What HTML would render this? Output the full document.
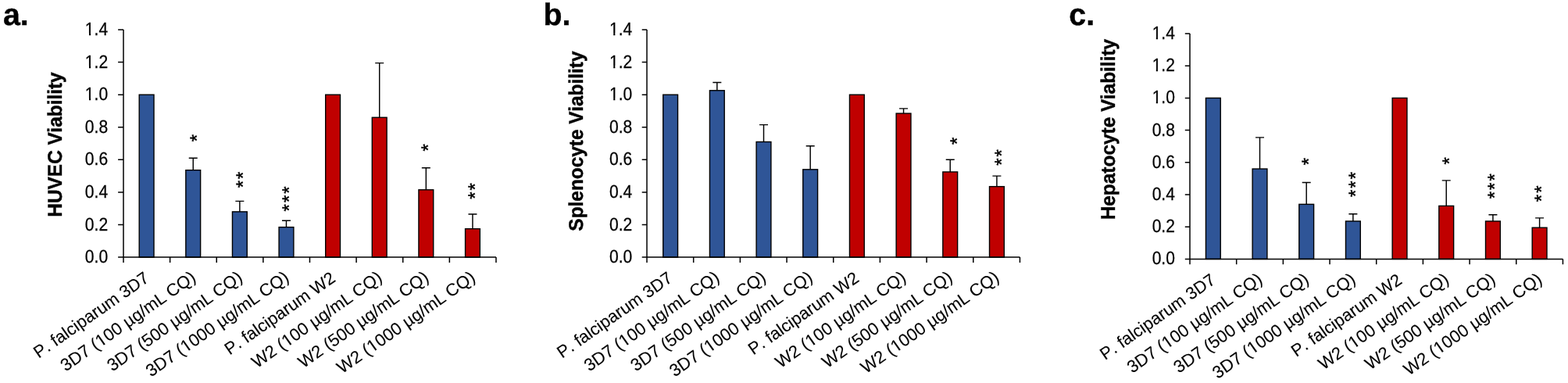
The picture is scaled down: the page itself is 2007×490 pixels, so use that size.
<!DOCTYPE html>
<html lang="en"><head><meta charset="utf-8"><title>Cell viability charts</title>
<style>html,body{margin:0;padding:0;background:#fff}body{width:2007px;height:490px;overflow:hidden}svg{display:block}</style>
</head><body>
<svg width="2007" height="490" viewBox="0 0 2007 490" font-family='"Liberation Sans", sans-serif' text-rendering="geometricPrecision">
<rect width="2007" height="490" fill="#fff"/>
<g>
<text x="4" y="32.3" font-size="39.3" font-weight="bold" fill="#000" stroke="#000" stroke-width="0.4">a.</text>
<text transform="translate(78.8,185) rotate(-90) scale(0.996,1.04)" text-anchor="middle" font-size="24.5" font-weight="bold" fill="#000" stroke="#000" stroke-width="0.4">HUVEC Viability</text>
<rect x="178.21" y="121.17" width="18.8" height="207.93" fill="#2f5597" stroke="#000" stroke-width="1.4"/>
<path d="M247.23 217.65V202.26M241.73 202.26H252.73" stroke="#000" stroke-width="1.45" fill="none"/>
<rect x="237.83" y="217.65" width="18.8" height="111.45" fill="#2f5597" stroke="#000" stroke-width="1.4"/>
<text transform="translate(259.83,181.18) rotate(-90)" font-size="24" letter-spacing="2.0" fill="#000" stroke="#000" stroke-width="0.5">*</text>
<path d="M306.85 270.88V257.36M301.35 257.36H312.35" stroke="#000" stroke-width="1.45" fill="none"/>
<rect x="297.45" y="270.88" width="18.8" height="58.22" fill="#2f5597" stroke="#000" stroke-width="1.4"/>
<text transform="translate(318.65,240.35) rotate(-90)" font-size="24" letter-spacing="2.0" fill="#000" stroke="#000" stroke-width="0.5">**</text>
<path d="M366.47 290.63V282.32M360.97 282.32H371.97" stroke="#000" stroke-width="1.45" fill="none"/>
<rect x="357.07" y="290.63" width="18.8" height="38.47" fill="#2f5597" stroke="#000" stroke-width="1.4"/>
<text transform="translate(378.07,270.42) rotate(-90)" font-size="24" letter-spacing="2.0" fill="#000" stroke="#000" stroke-width="0.5">***</text>
<rect x="416.69" y="121.17" width="18.8" height="207.93" fill="#c00000" stroke="#000" stroke-width="1.4"/>
<path d="M485.71 150.28V80.63M480.21 80.63H491.21" stroke="#000" stroke-width="1.45" fill="none"/>
<rect x="476.31" y="150.28" width="18.8" height="178.82" fill="#c00000" stroke="#000" stroke-width="1.4"/>
<path d="M545.33 242.81V214.74M539.83 214.74H550.83" stroke="#000" stroke-width="1.45" fill="none"/>
<rect x="535.93" y="242.81" width="18.8" height="86.29" fill="#c00000" stroke="#000" stroke-width="1.4"/>
<text transform="translate(555.63,193.58) rotate(-90)" font-size="24" letter-spacing="2.0" fill="#000" stroke="#000" stroke-width="0.5">*</text>
<path d="M604.95 292.71V274.00M599.45 274.00H610.45" stroke="#000" stroke-width="1.45" fill="none"/>
<rect x="595.55" y="292.71" width="18.8" height="36.39" fill="#c00000" stroke="#000" stroke-width="1.4"/>
<text transform="translate(616.45,254.85) rotate(-90)" font-size="24" letter-spacing="2.0" fill="#000" stroke="#000" stroke-width="0.5">**</text>
<path d="M158 38V329.1H634.96M151.1 329.10H158M151.1 287.51H158M151.1 245.93H158M151.1 204.34H158M151.1 162.76H158M151.1 121.17H158M151.1 79.59H158M151.1 38.00H158M158.00 329.1V336.00M217.62 329.1V336.00M277.24 329.1V336.00M336.86 329.1V336.00M396.48 329.1V336.00M456.10 329.1V336.00M515.72 329.1V336.00M575.34 329.1V336.00M634.96 329.1V336.00" stroke="#000" stroke-width="1.5" fill="none"/>
<text transform="translate(138.10,336.10) scale(0.965,1.075)" text-anchor="end" font-size="21.8" fill="#000" stroke="#000" stroke-width="0.25">0.0</text>
<text transform="translate(138.10,294.51) scale(0.965,1.075)" text-anchor="end" font-size="21.8" fill="#000" stroke="#000" stroke-width="0.25">0.2</text>
<text transform="translate(138.10,252.93) scale(0.965,1.075)" text-anchor="end" font-size="21.8" fill="#000" stroke="#000" stroke-width="0.25">0.4</text>
<text transform="translate(138.10,211.34) scale(0.965,1.075)" text-anchor="end" font-size="21.8" fill="#000" stroke="#000" stroke-width="0.25">0.6</text>
<text transform="translate(138.10,169.76) scale(0.965,1.075)" text-anchor="end" font-size="21.8" fill="#000" stroke="#000" stroke-width="0.25">0.8</text>
<text transform="translate(138.10,128.17) scale(0.965,1.075)" text-anchor="end" font-size="21.8" fill="#000" stroke="#000" stroke-width="0.25">1.0</text><path transform="translate(138.10,128.17) scale(0.965,1.075)" d="M-29.75 -2.23H-24.98V1.30H-29.75ZM-22.75 -2.23H-18.15V1.30H-22.75Z" fill="#fff"/>
<text transform="translate(138.10,86.59) scale(0.965,1.075)" text-anchor="end" font-size="21.8" fill="#000" stroke="#000" stroke-width="0.25">1.2</text><path transform="translate(138.10,86.59) scale(0.965,1.075)" d="M-29.75 -2.23H-24.98V1.30H-29.75ZM-22.75 -2.23H-18.15V1.30H-22.75Z" fill="#fff"/>
<text transform="translate(138.10,45.00) scale(0.965,1.075)" text-anchor="end" font-size="21.8" fill="#000" stroke="#000" stroke-width="0.25">1.4</text><path transform="translate(138.10,45.00) scale(0.965,1.075)" d="M-29.75 -2.23H-24.98V1.30H-29.75ZM-22.75 -2.23H-18.15V1.30H-22.75Z" fill="#fff"/>
<text transform="translate(192.21,359.10) rotate(-35)" text-anchor="end" font-size="21.95" fill="#000" stroke="#000" stroke-width="0.1">P<tspan dx="2.7">.</tspan> falciparum 3D7</text>
<text transform="translate(252.13,358.10) rotate(-35)" text-anchor="end" font-size="22.15" fill="#000" stroke="#000" stroke-width="0.1">3D7 (100 µg/mL CQ)</text><path transform="translate(252.13,358.10) rotate(-35)" d="M-150.40 -2.25H-145.56V1.30H-150.40ZM-143.31 -2.25H-138.65V1.30H-143.31Z" fill="#fff"/>
<text transform="translate(311.75,358.10) rotate(-35)" text-anchor="end" font-size="22.15" fill="#000" stroke="#000" stroke-width="0.1">3D7 (500 µg/mL CQ)</text>
<text transform="translate(371.37,358.10) rotate(-35)" text-anchor="end" font-size="22.15" fill="#000" stroke="#000" stroke-width="0.1">3D7 (1000 µg/mL CQ)</text><path transform="translate(371.37,358.10) rotate(-35)" d="M-162.73 -2.25H-157.89V1.30H-162.73ZM-155.63 -2.25H-150.98V1.30H-155.63Z" fill="#fff"/>
<text transform="translate(430.69,359.10) rotate(-35)" text-anchor="end" font-size="21.95" fill="#000" stroke="#000" stroke-width="0.1">P<tspan dx="2.7">.</tspan> falciparum W2</text>
<text transform="translate(490.61,358.10) rotate(-35)" text-anchor="end" font-size="22.15" fill="#000" stroke="#000" stroke-width="0.1">W2 (100 µg/mL CQ)</text><path transform="translate(490.61,358.10) rotate(-35)" d="M-150.41 -2.25H-145.58V1.30H-150.41ZM-143.32 -2.25H-138.66V1.30H-143.32Z" fill="#fff"/>
<text transform="translate(550.23,358.10) rotate(-35)" text-anchor="end" font-size="22.15" fill="#000" stroke="#000" stroke-width="0.1">W2 (500 µg/mL CQ)</text>
<text transform="translate(609.85,358.10) rotate(-35)" text-anchor="end" font-size="22.15" fill="#000" stroke="#000" stroke-width="0.1">W2 (1000 µg/mL CQ)</text><path transform="translate(609.85,358.10) rotate(-35)" d="M-162.73 -2.25H-157.89V1.30H-162.73ZM-155.63 -2.25H-150.98V1.30H-155.63Z" fill="#fff"/>
</g>
<g>
<text x="695.6" y="32.4" font-size="39.3" font-weight="bold" fill="#000" stroke="#000" stroke-width="0.4">b.</text>
<text transform="translate(746.2,180.6) rotate(-90) scale(0.996,1.04)" text-anchor="middle" font-size="24.5" font-weight="bold" fill="#000" stroke="#000" stroke-width="0.4">Splenocyte Viability</text>
<rect x="848.74" y="121.17" width="18.8" height="207.93" fill="#2f5597" stroke="#000" stroke-width="1.4"/>
<path d="M917.82 115.77V105.58M912.32 105.58H923.32" stroke="#000" stroke-width="1.45" fill="none"/>
<rect x="908.42" y="115.77" width="18.8" height="213.33" fill="#2f5597" stroke="#000" stroke-width="1.4"/>
<path d="M977.50 181.47V159.64M972.00 159.64H983.00" stroke="#000" stroke-width="1.45" fill="none"/>
<rect x="968.10" y="181.47" width="18.8" height="147.63" fill="#2f5597" stroke="#000" stroke-width="1.4"/>
<path d="M1037.18 216.82V186.67M1031.68 186.67H1042.68" stroke="#000" stroke-width="1.45" fill="none"/>
<rect x="1027.78" y="216.82" width="18.8" height="112.28" fill="#2f5597" stroke="#000" stroke-width="1.4"/>
<rect x="1087.46" y="121.17" width="18.8" height="207.93" fill="#c00000" stroke="#000" stroke-width="1.4"/>
<path d="M1156.54 145.08V138.85M1151.04 138.85H1162.04" stroke="#000" stroke-width="1.45" fill="none"/>
<rect x="1147.14" y="145.08" width="18.8" height="184.02" fill="#c00000" stroke="#000" stroke-width="1.4"/>
<path d="M1216.22 219.94V204.34M1210.72 204.34H1221.72" stroke="#000" stroke-width="1.45" fill="none"/>
<rect x="1206.82" y="219.94" width="18.8" height="109.16" fill="#c00000" stroke="#000" stroke-width="1.4"/>
<text transform="translate(1232.92,184.88) rotate(-90)" font-size="24" letter-spacing="2.0" fill="#000" stroke="#000" stroke-width="0.5">*</text>
<path d="M1275.90 238.65V225.14M1270.40 225.14H1281.40" stroke="#000" stroke-width="1.45" fill="none"/>
<rect x="1266.50" y="238.65" width="18.8" height="90.45" fill="#c00000" stroke="#000" stroke-width="1.4"/>
<text transform="translate(1289.50,211.75) rotate(-90)" font-size="24" letter-spacing="2.0" fill="#000" stroke="#000" stroke-width="0.5">**</text>
<path d="M828 38V329.1H1305.44M821.7 329.10H828M821.7 287.51H828M821.7 245.93H828M821.7 204.34H828M821.7 162.76H828M821.7 121.17H828M821.7 79.59H828M821.7 38.00H828M828.00 329.1V336.00M887.68 329.1V336.00M947.36 329.1V336.00M1007.04 329.1V336.00M1066.72 329.1V336.00M1126.40 329.1V336.00M1186.08 329.1V336.00M1245.76 329.1V336.00M1305.44 329.1V336.00" stroke="#000" stroke-width="1.5" fill="none"/>
<text transform="translate(809.30,336.10) scale(0.965,1.075)" text-anchor="end" font-size="21.8" fill="#000" stroke="#000" stroke-width="0.25">0.0</text>
<text transform="translate(809.30,294.51) scale(0.965,1.075)" text-anchor="end" font-size="21.8" fill="#000" stroke="#000" stroke-width="0.25">0.2</text>
<text transform="translate(809.30,252.93) scale(0.965,1.075)" text-anchor="end" font-size="21.8" fill="#000" stroke="#000" stroke-width="0.25">0.4</text>
<text transform="translate(809.30,211.34) scale(0.965,1.075)" text-anchor="end" font-size="21.8" fill="#000" stroke="#000" stroke-width="0.25">0.6</text>
<text transform="translate(809.30,169.76) scale(0.965,1.075)" text-anchor="end" font-size="21.8" fill="#000" stroke="#000" stroke-width="0.25">0.8</text>
<text transform="translate(809.30,128.17) scale(0.965,1.075)" text-anchor="end" font-size="21.8" fill="#000" stroke="#000" stroke-width="0.25">1.0</text><path transform="translate(809.30,128.17) scale(0.965,1.075)" d="M-29.75 -2.23H-24.98V1.30H-29.75ZM-22.75 -2.23H-18.15V1.30H-22.75Z" fill="#fff"/>
<text transform="translate(809.30,86.59) scale(0.965,1.075)" text-anchor="end" font-size="21.8" fill="#000" stroke="#000" stroke-width="0.25">1.2</text><path transform="translate(809.30,86.59) scale(0.965,1.075)" d="M-29.75 -2.23H-24.98V1.30H-29.75ZM-22.75 -2.23H-18.15V1.30H-22.75Z" fill="#fff"/>
<text transform="translate(809.30,45.00) scale(0.965,1.075)" text-anchor="end" font-size="21.8" fill="#000" stroke="#000" stroke-width="0.25">1.4</text><path transform="translate(809.30,45.00) scale(0.965,1.075)" d="M-29.75 -2.23H-24.98V1.30H-29.75ZM-22.75 -2.23H-18.15V1.30H-22.75Z" fill="#fff"/>
<text transform="translate(862.24,359.10) rotate(-35)" text-anchor="end" font-size="21.95" fill="#000" stroke="#000" stroke-width="0.1">P<tspan dx="2.7">.</tspan> falciparum 3D7</text>
<text transform="translate(922.22,358.10) rotate(-35)" text-anchor="end" font-size="22.15" fill="#000" stroke="#000" stroke-width="0.1">3D7 (100 µg/mL CQ)</text><path transform="translate(922.22,358.10) rotate(-35)" d="M-150.40 -2.25H-145.56V1.30H-150.40ZM-143.31 -2.25H-138.65V1.30H-143.31Z" fill="#fff"/>
<text transform="translate(981.90,358.10) rotate(-35)" text-anchor="end" font-size="22.15" fill="#000" stroke="#000" stroke-width="0.1">3D7 (500 µg/mL CQ)</text>
<text transform="translate(1041.58,358.10) rotate(-35)" text-anchor="end" font-size="22.15" fill="#000" stroke="#000" stroke-width="0.1">3D7 (1000 µg/mL CQ)</text><path transform="translate(1041.58,358.10) rotate(-35)" d="M-162.73 -2.25H-157.89V1.30H-162.73ZM-155.63 -2.25H-150.98V1.30H-155.63Z" fill="#fff"/>
<text transform="translate(1100.96,359.10) rotate(-35)" text-anchor="end" font-size="21.95" fill="#000" stroke="#000" stroke-width="0.1">P<tspan dx="2.7">.</tspan> falciparum W2</text>
<text transform="translate(1160.94,358.10) rotate(-35)" text-anchor="end" font-size="22.15" fill="#000" stroke="#000" stroke-width="0.1">W2 (100 µg/mL CQ)</text><path transform="translate(1160.94,358.10) rotate(-35)" d="M-150.41 -2.25H-145.58V1.30H-150.41ZM-143.32 -2.25H-138.66V1.30H-143.32Z" fill="#fff"/>
<text transform="translate(1220.62,358.10) rotate(-35)" text-anchor="end" font-size="22.15" fill="#000" stroke="#000" stroke-width="0.1">W2 (500 µg/mL CQ)</text>
<text transform="translate(1280.30,358.10) rotate(-35)" text-anchor="end" font-size="22.15" fill="#000" stroke="#000" stroke-width="0.1">W2 (1000 µg/mL CQ)</text><path transform="translate(1280.30,358.10) rotate(-35)" d="M-162.73 -2.25H-157.89V1.30H-162.73ZM-155.63 -2.25H-150.98V1.30H-155.63Z" fill="#fff"/>
</g>
<g>
<text x="1368.3" y="32.4" font-size="39.3" font-weight="bold" fill="#000" stroke="#000" stroke-width="0.4">c.</text>
<text transform="translate(1426.5,165.6) rotate(-90) scale(0.996,1.04)" text-anchor="middle" font-size="24.5" font-weight="bold" fill="#000" stroke="#000" stroke-width="0.4">Hepatocyte Viability</text>
<rect x="1543.44" y="125.40" width="18.8" height="206.00" fill="#2f5597" stroke="#000" stroke-width="1.4"/>
<path d="M1612.52 216.04V175.87M1607.02 175.87H1618.02" stroke="#000" stroke-width="1.45" fill="none"/>
<rect x="1603.12" y="216.04" width="18.8" height="115.36" fill="#2f5597" stroke="#000" stroke-width="1.4"/>
<path d="M1672.20 261.36V233.55M1666.70 233.55H1677.70" stroke="#000" stroke-width="1.45" fill="none"/>
<rect x="1662.80" y="261.36" width="18.8" height="70.04" fill="#2f5597" stroke="#000" stroke-width="1.4"/>
<text transform="translate(1683.30,211.18) rotate(-90)" font-size="24" letter-spacing="2.0" fill="#000" stroke="#000" stroke-width="0.5">*</text>
<path d="M1731.88 282.99V273.72M1726.38 273.72H1737.38" stroke="#000" stroke-width="1.45" fill="none"/>
<rect x="1722.48" y="282.99" width="18.8" height="48.41" fill="#2f5597" stroke="#000" stroke-width="1.4"/>
<text transform="translate(1742.78,252.02) rotate(-90)" font-size="24" letter-spacing="2.0" fill="#000" stroke="#000" stroke-width="0.5">***</text>
<rect x="1782.16" y="125.40" width="18.8" height="206.00" fill="#c00000" stroke="#000" stroke-width="1.4"/>
<path d="M1851.24 263.42V230.87M1845.74 230.87H1856.74" stroke="#000" stroke-width="1.45" fill="none"/>
<rect x="1841.84" y="263.42" width="18.8" height="67.98" fill="#c00000" stroke="#000" stroke-width="1.4"/>
<text transform="translate(1862.64,210.48) rotate(-90)" font-size="24" letter-spacing="2.0" fill="#000" stroke="#000" stroke-width="0.5">*</text>
<path d="M1910.92 282.99V274.75M1905.42 274.75H1916.42" stroke="#000" stroke-width="1.45" fill="none"/>
<rect x="1901.52" y="282.99" width="18.8" height="48.41" fill="#c00000" stroke="#000" stroke-width="1.4"/>
<text transform="translate(1921.12,254.22) rotate(-90)" font-size="24" letter-spacing="2.0" fill="#000" stroke="#000" stroke-width="0.5">***</text>
<path d="M1970.60 291.23V278.87M1965.10 278.87H1976.10" stroke="#000" stroke-width="1.45" fill="none"/>
<rect x="1961.20" y="291.23" width="18.8" height="40.17" fill="#c00000" stroke="#000" stroke-width="1.4"/>
<text transform="translate(1980.90,258.15) rotate(-90)" font-size="24" letter-spacing="2.0" fill="#000" stroke="#000" stroke-width="0.5">**</text>
<path d="M1523 43V331.4H2000.44M1516.8 331.40H1523M1516.8 290.20H1523M1516.8 249.00H1523M1516.8 207.80H1523M1516.8 166.60H1523M1516.8 125.40H1523M1516.8 84.20H1523M1516.8 43.00H1523M1523.00 331.4V338.30M1582.68 331.4V338.30M1642.36 331.4V338.30M1702.04 331.4V338.30M1761.72 331.4V338.30M1821.40 331.4V338.30M1881.08 331.4V338.30M1940.76 331.4V338.30M2000.44 331.4V338.30" stroke="#000" stroke-width="1.5" fill="none"/>
<text transform="translate(1503.90,338.40) scale(0.965,1.075)" text-anchor="end" font-size="21.8" fill="#000" stroke="#000" stroke-width="0.25">0.0</text>
<text transform="translate(1503.90,297.20) scale(0.965,1.075)" text-anchor="end" font-size="21.8" fill="#000" stroke="#000" stroke-width="0.25">0.2</text>
<text transform="translate(1503.90,256.00) scale(0.965,1.075)" text-anchor="end" font-size="21.8" fill="#000" stroke="#000" stroke-width="0.25">0.4</text>
<text transform="translate(1503.90,214.80) scale(0.965,1.075)" text-anchor="end" font-size="21.8" fill="#000" stroke="#000" stroke-width="0.25">0.6</text>
<text transform="translate(1503.90,173.60) scale(0.965,1.075)" text-anchor="end" font-size="21.8" fill="#000" stroke="#000" stroke-width="0.25">0.8</text>
<text transform="translate(1503.90,132.40) scale(0.965,1.075)" text-anchor="end" font-size="21.8" fill="#000" stroke="#000" stroke-width="0.25">1.0</text><path transform="translate(1503.90,132.40) scale(0.965,1.075)" d="M-29.75 -2.23H-24.98V1.30H-29.75ZM-22.75 -2.23H-18.15V1.30H-22.75Z" fill="#fff"/>
<text transform="translate(1503.90,91.20) scale(0.965,1.075)" text-anchor="end" font-size="21.8" fill="#000" stroke="#000" stroke-width="0.25">1.2</text><path transform="translate(1503.90,91.20) scale(0.965,1.075)" d="M-29.75 -2.23H-24.98V1.30H-29.75ZM-22.75 -2.23H-18.15V1.30H-22.75Z" fill="#fff"/>
<text transform="translate(1503.90,50.00) scale(0.965,1.075)" text-anchor="end" font-size="21.8" fill="#000" stroke="#000" stroke-width="0.25">1.4</text><path transform="translate(1503.90,50.00) scale(0.965,1.075)" d="M-29.75 -2.23H-24.98V1.30H-29.75ZM-22.75 -2.23H-18.15V1.30H-22.75Z" fill="#fff"/>
<text transform="translate(1557.24,361.40) rotate(-35)" text-anchor="end" font-size="21.95" fill="#000" stroke="#000" stroke-width="0.1">P<tspan dx="2.7">.</tspan> falciparum 3D7</text>
<text transform="translate(1617.22,360.40) rotate(-35)" text-anchor="end" font-size="22.15" fill="#000" stroke="#000" stroke-width="0.1">3D7 (100 µg/mL CQ)</text><path transform="translate(1617.22,360.40) rotate(-35)" d="M-150.40 -2.25H-145.56V1.30H-150.40ZM-143.31 -2.25H-138.65V1.30H-143.31Z" fill="#fff"/>
<text transform="translate(1676.90,360.40) rotate(-35)" text-anchor="end" font-size="22.15" fill="#000" stroke="#000" stroke-width="0.1">3D7 (500 µg/mL CQ)</text>
<text transform="translate(1736.58,360.40) rotate(-35)" text-anchor="end" font-size="22.15" fill="#000" stroke="#000" stroke-width="0.1">3D7 (1000 µg/mL CQ)</text><path transform="translate(1736.58,360.40) rotate(-35)" d="M-162.73 -2.25H-157.89V1.30H-162.73ZM-155.63 -2.25H-150.98V1.30H-155.63Z" fill="#fff"/>
<text transform="translate(1795.96,361.40) rotate(-35)" text-anchor="end" font-size="21.95" fill="#000" stroke="#000" stroke-width="0.1">P<tspan dx="2.7">.</tspan> falciparum W2</text>
<text transform="translate(1855.94,360.40) rotate(-35)" text-anchor="end" font-size="22.15" fill="#000" stroke="#000" stroke-width="0.1">W2 (100 µg/mL CQ)</text><path transform="translate(1855.94,360.40) rotate(-35)" d="M-150.41 -2.25H-145.58V1.30H-150.41ZM-143.32 -2.25H-138.66V1.30H-143.32Z" fill="#fff"/>
<text transform="translate(1915.62,360.40) rotate(-35)" text-anchor="end" font-size="22.15" fill="#000" stroke="#000" stroke-width="0.1">W2 (500 µg/mL CQ)</text>
<text transform="translate(1975.30,360.40) rotate(-35)" text-anchor="end" font-size="22.15" fill="#000" stroke="#000" stroke-width="0.1">W2 (1000 µg/mL CQ)</text><path transform="translate(1975.30,360.40) rotate(-35)" d="M-162.73 -2.25H-157.89V1.30H-162.73ZM-155.63 -2.25H-150.98V1.30H-155.63Z" fill="#fff"/>
</g>
</svg>
</body></html>
